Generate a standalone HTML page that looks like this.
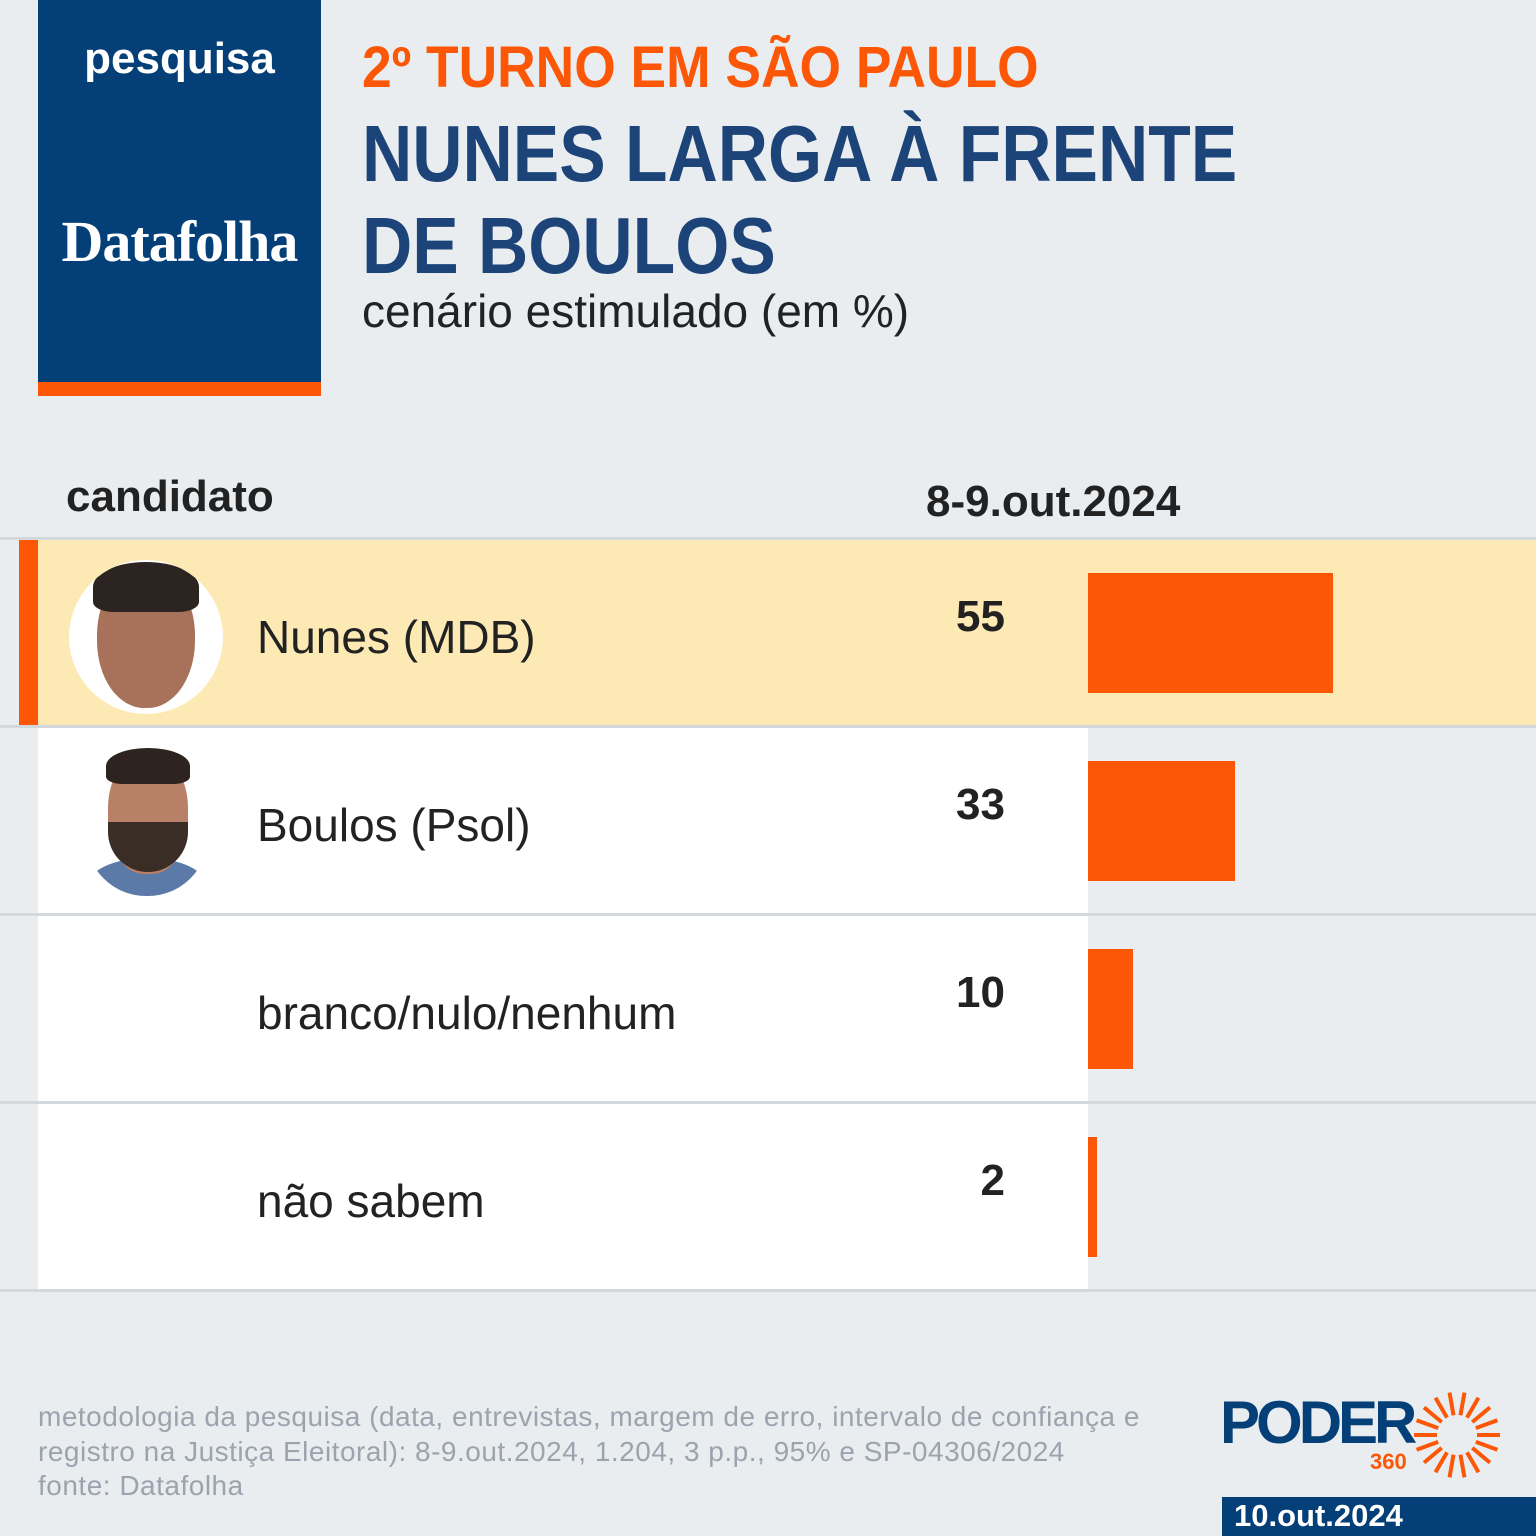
<!DOCTYPE html>
<html><head><meta charset="utf-8"><style>
*{margin:0;padding:0;box-sizing:border-box}
body{width:1536px;height:1536px;background:#e9edf0;position:relative;overflow:hidden;font-family:"Liberation Sans",sans-serif}
.a{position:absolute;white-space:nowrap}
.line{position:absolute;left:0;width:1536px;height:3px;background:#d3d8dd}
.num{position:absolute;right:531px;font-weight:bold;font-size:44px;color:#222}
.lab{position:absolute;left:257px;font-size:46px;color:#222}
.bar{position:absolute;left:1088px;height:120px;background:#fc5607}
</style></head><body>
<div class="a" style="left:38px;top:0;width:283px;height:382px;background:#053f78"></div>
<div class="a" style="left:38px;top:382px;width:283px;height:14px;background:#fc5607"></div>
<div class="a" style="left:38px;width:283px;text-align:center;top:34px;color:#fff;font-weight:bold;font-size:44px">pesquisa</div>
<div class="a" style="left:38px;width:283px;text-align:center;top:208px;color:#fff;font-weight:bold;font-size:58px;font-family:'Liberation Serif',serif;letter-spacing:-1px">Datafolha</div>
<div class="a" style="left:362px;top:34px;color:#fc5607;font-weight:bold;font-size:58px;transform:scaleX(0.92);transform-origin:0 0">2º TURNO EM SÃO PAULO</div>
<div class="a" style="left:362px;top:108px;color:#1d4479;font-weight:bold;font-size:80px;line-height:92px;transform:scaleX(0.87);transform-origin:0 0">NUNES LARGA À FRENTE<br>DE BOULOS</div>
<div class="a" style="left:362px;top:284px;color:#222;font-size:46px">cenário estimulado (em %)</div>
<div class="a" style="left:66px;top:472px;color:#222;font-weight:bold;font-size:44px">candidato</div>
<div class="a" style="left:926px;top:477px;color:#222;font-weight:bold;font-size:44px">8-9.out.2024</div>

<div class="a" style="left:19px;top:540px;width:1517px;height:186px;background:#fde9b4"></div>
<div class="a" style="left:19px;top:540px;width:19px;height:186px;background:#fc5607"></div>
<div class="a" style="left:38px;top:728px;width:1050px;height:186px;background:#fff"></div>
<div class="a" style="left:38px;top:916px;width:1050px;height:186px;background:#fff"></div>
<div class="a" style="left:38px;top:1104px;width:1050px;height:186px;background:#fff"></div>
<div class="line" style="top:537px"></div><div class="line" style="top:725px"></div>
<div class="line" style="top:913px"></div><div class="line" style="top:1101px"></div><div class="line" style="top:1289px"></div>

<div class="a" style="left:69px;top:560px;width:154px;height:154px;border-radius:50%;background:#fff;overflow:hidden">
<div style="position:absolute;left:28px;top:8px;width:98px;height:140px;border-radius:48%;background:#a8725a"></div>
<div style="position:absolute;left:24px;top:2px;width:106px;height:50px;border-radius:50% 50% 20% 20%;background:#2b2420"></div></div>
<div class="a" style="left:86px;top:748px;width:122px;height:148px;border-radius:0 0 60px 60px;overflow:hidden">
<div style="position:absolute;left:0;top:110px;width:122px;height:60px;border-radius:50%;background:#5c7aa8"></div>
<div style="position:absolute;left:22px;top:6px;width:80px;height:120px;border-radius:45%;background:#b88066"></div>
<div style="position:absolute;left:22px;top:74px;width:80px;height:50px;border-radius:0 0 40px 40px;background:#3a2d26"></div>
<div style="position:absolute;left:20px;top:0;width:84px;height:36px;border-radius:50% 50% 20% 20%;background:#2e241f"></div></div>

<div class="lab" style="top:610px">Nunes (MDB)</div>
<div class="lab" style="top:798px">Boulos (Psol)</div>
<div class="lab" style="top:986px">branco/nulo/nenhum</div>
<div class="lab" style="top:1174px">não sabem</div>
<div class="num" style="top:592px">55</div>
<div class="num" style="top:780px">33</div>
<div class="num" style="top:968px">10</div>
<div class="num" style="top:1156px">2</div>
<div class="bar" style="top:573px;width:245px"></div>
<div class="bar" style="top:761px;width:147px"></div>
<div class="bar" style="top:949px;width:45px"></div>
<div class="bar" style="top:1137px;width:9px"></div>

<div class="a" style="left:38px;top:1400px;color:#9ba4ae;font-size:28px;line-height:34.5px;letter-spacing:0.5px">metodologia da pesquisa (data, entrevistas, margem de erro, intervalo de confiança e<br>registro na Justiça Eleitoral): 8-9.out.2024, 1.204, 3 p.p., 95% e SP-04306/2024<br>fonte: Datafolha</div>
<div class="a" style="left:1220px;top:1388px;color:#053f78;font-weight:bold;font-size:60px;letter-spacing:-4px">PODER</div>
<div class="a" style="left:1370px;top:1449px;color:#fc5607;font-weight:bold;font-size:22px">360</div>
<svg class="a" style="left:1412px;top:1390px" width="90" height="90" viewBox="-45 -45 90 90">
<g stroke="#fc5607" stroke-width="4">
<line x1="20" y1="0" x2="43" y2="0" transform="rotate(0)"/><line x1="20" y1="0" x2="43" y2="0" transform="rotate(20)"/><line x1="20" y1="0" x2="43" y2="0" transform="rotate(40)"/><line x1="20" y1="0" x2="43" y2="0" transform="rotate(60)"/><line x1="20" y1="0" x2="43" y2="0" transform="rotate(80)"/><line x1="20" y1="0" x2="43" y2="0" transform="rotate(100)"/><line x1="20" y1="0" x2="43" y2="0" transform="rotate(120)"/><line x1="20" y1="0" x2="43" y2="0" transform="rotate(140)"/><line x1="20" y1="0" x2="43" y2="0" transform="rotate(160)"/><line x1="20" y1="0" x2="43" y2="0" transform="rotate(180)"/><line x1="20" y1="0" x2="43" y2="0" transform="rotate(200)"/><line x1="20" y1="0" x2="43" y2="0" transform="rotate(220)"/><line x1="20" y1="0" x2="43" y2="0" transform="rotate(240)"/><line x1="20" y1="0" x2="43" y2="0" transform="rotate(260)"/><line x1="20" y1="0" x2="43" y2="0" transform="rotate(280)"/><line x1="20" y1="0" x2="43" y2="0" transform="rotate(300)"/><line x1="20" y1="0" x2="43" y2="0" transform="rotate(320)"/><line x1="20" y1="0" x2="43" y2="0" transform="rotate(340)"/>
</g></svg>
<div class="a" style="left:1222px;top:1497px;width:314px;height:39px;background:#053f78"></div>
<div class="a" style="left:1234px;top:1498px;color:#fff;font-weight:bold;font-size:31px">10.out.2024</div>
</body></html>
